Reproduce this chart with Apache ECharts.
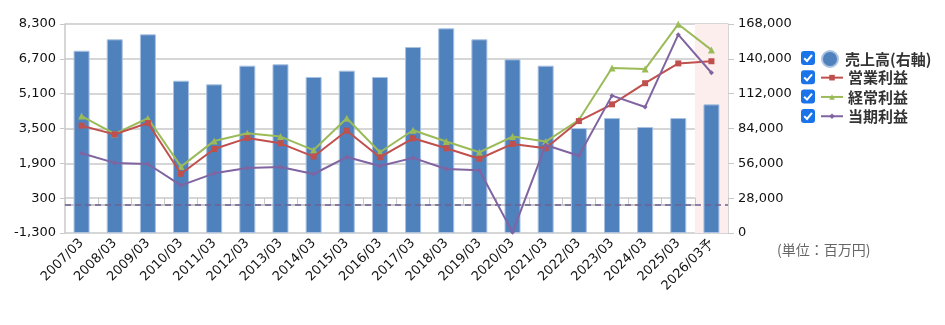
<!DOCTYPE html>
<html><head><meta charset="utf-8">
<script src="https://cdn.jsdelivr.net/npm/echarts@6/dist/echarts.min.js"></script>
<style>html,body{margin:0;padding:0;background:#fff}#c{width:945px;height:325px}</style>
</head><body><div id="c"></div>
<script>
var categories = ['2007/03','2008/03','2009/03','2010/03','2011/03','2012/03','2013/03','2014/03','2015/03','2016/03','2017/03','2018/03','2019/03','2020/03','2021/03','2022/03','2023/03','2024/03','2025/03','2026/03予'];
var sales = [146500,155700,159700,122400,119500,134500,135600,125400,130500,125400,149500,164500,155700,139600,134500,84400,92400,85200,92400,103400];
var operatingProfit = [3630,3230,3750,1420,2560,3060,2820,2210,3400,2180,3050,2590,2110,2790,2590,3840,4610,5580,6490,6590];
var ordinaryProfit = [4070,3250,3970,1750,2930,3280,3130,2510,3970,2410,3420,2900,2410,3130,2900,3890,6280,6230,8290,7110];
var netProfit = [2360,1920,1870,890,1440,1690,1730,1410,2190,1780,2150,1640,1580,-1270,2740,2250,5010,4490,7810,6060];
var leftTicks = {min:-1300, max:8300, interval:1600};
var rightTicks = {min:0, max:168000, interval:28000};
var unitLabel = '(単位：百万円)';
var highlight = categories.map(function(c,i){return i===categories.length-1 ? rightTicks.max : null;});
</script>
<script>
var chart = echarts.init(document.getElementById('c'), null, {renderer:'canvas'});
var font = 'DejaVu Sans';
function checkbox(y){
  return {type:'group', left:801, top:y, children:[
    {type:'rect', shape:{x:0,y:0,width:14,height:14,r:3}, style:{fill:'#1a73e8'}},
    {type:'polyline', shape:{points:[[3.2,7.2],[6,10],[11,4]]}, style:{stroke:'#fff', lineWidth:2, fill:null}}
  ]};
}
var legendText = {fontSize:15, fontWeight:'bold', color:'#333', fontFamily:'Noto Sans CJK JP'};
var fmt = function(v){return v.toLocaleString('en-US');};
chart.setOption({
  animation:false,
  textStyle:{fontFamily:font},
  grid:{left:65, top:24, right:217, bottom:92},
  legend:[{
    orient:'vertical', left:821, top:50, padding:0, itemWidth:20, itemHeight:16, itemGap:0,
    textStyle:legendText,
    data:[{name:'売上高(右軸)', icon:'circle'}]
  },{
    orient:'vertical', left:820, top:68, padding:0, itemWidth:22, itemHeight:7, itemGap:0,
    textStyle:Object.assign({}, legendText, {lineHeight:19.3, height:19.3}),
    data:['営業利益', '経常利益', '当期利益']
  }],
  graphic:[checkbox(51), checkbox(70.3), checkbox(89.6), checkbox(108.9),
    {type:'text', left:777, top:243, style:{text:unitLabel, fill:'#666', font:'14px "Noto Sans CJK JP"'}}],
  xAxis:[{
    type:'category', data:categories,
    axisLine:{lineStyle:{color:'#c8c8c8', width:2}},
    axisTick:{show:true, inside:true, length:7, lineStyle:{color:'#c8c8c8'}},
    axisLabel:{rotate:45, fontSize:13, color:'#111', margin:8, interval:0}
  },{
    type:'category', data:categories, show:false
  }],
  yAxis:[{
    type:'value', min:leftTicks.min, max:leftTicks.max, interval:leftTicks.interval,
    axisLine:{show:true, lineStyle:{color:'#c8c8c8', width:1.5}},
    axisTick:{show:true, length:5, lineStyle:{color:'#c8c8c8'}},
    splitLine:{lineStyle:{color:'#c8c8c8', width:1.5}},
    axisLabel:{fontSize:13, color:'#111', margin:9, formatter:fmt}
  },{
    type:'value', min:rightTicks.min, max:rightTicks.max, interval:rightTicks.interval,
    axisLine:{show:true, lineStyle:{color:'#c8c8c8', width:1.5}},
    axisTick:{show:true, length:6, lineStyle:{color:'#c8c8c8'}},
    splitLine:{show:false},
    axisLabel:{fontSize:13, color:'#111', margin:10, formatter:fmt}
  }],
  series:[
    {name:'bg', type:'bar', xAxisIndex:1, yAxisIndex:1, data:highlight, barWidth:'100%', z:0, silent:true,
      itemStyle:{color:'#fdeeee'}, legendHoverLink:false},
    {name:'売上高(右軸)', type:'bar', yAxisIndex:1, data:sales, barWidth:16, z:2,
      itemStyle:{color:'#4f81bd', borderColor:'#aac2e2', borderWidth:1}},
    {name:'営業利益', type:'line', yAxisIndex:0, data:operatingProfit, z:4,
      symbol:'rect', symbolSize:6, lineStyle:{color:'#c0504d', width:2}, itemStyle:{color:'#c0504d'}},
    {name:'経常利益', type:'line', yAxisIndex:0, data:ordinaryProfit, z:3,
      symbol:'triangle', symbolSize:7, lineStyle:{color:'#9bbb59', width:2}, itemStyle:{color:'#9bbb59'}},
    {name:'当期利益', type:'line', yAxisIndex:0, data:netProfit, z:5,
      symbol:'diamond', symbolSize:5, lineStyle:{color:'#8064a2', width:2}, itemStyle:{color:'#8064a2'},
      markLine:{silent:true, symbol:['none','none'], label:{show:false},
        lineStyle:{color:'#6e5f92', type:[6,4], width:1.5}, data:[{yAxis:0}]}}
  ]
});
</script>
</body></html>
